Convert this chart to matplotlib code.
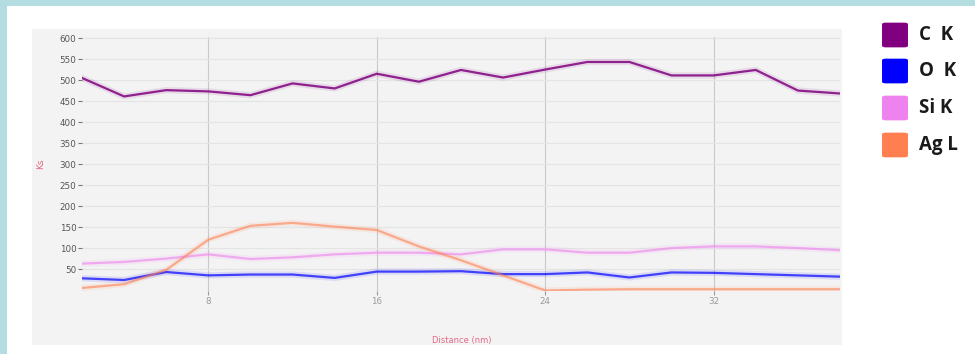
import matplotlib
matplotlib.use("Agg")
import matplotlib.pyplot as plt
from matplotlib.patches import Rectangle, FancyBboxPatch

# Line-scan data: element counts along the scan distance
distance = [2, 4, 6, 8, 10, 12, 14, 16, 18, 20, 22, 24, 26, 28, 30, 32, 34, 36, 38]
c_k = [506, 462, 477, 474, 465, 493, 481, 516, 497, 525, 507, 526, 544, 544, 512, 512, 525, 476, 469]
o_k = [29, 25, 44, 36, 38, 38, 30, 45, 45, 46, 39, 39, 43, 31, 43, 42, 39, 36, 33]
si_k = [64, 68, 76, 86, 75, 79, 86, 90, 90, 86, 98, 98, 90, 90, 101, 105, 105, 101, 96]
ag_l = [6, 15, 49, 121, 154, 161, 152, 144, 105, 72, 36, 0, 2, 3, 3, 3, 3, 3, 3]

series_names = ["C  K", "O  K", "Si K", "Ag L"]
series_colors = ["#800080", "#0000ff", "#ee82ee", "#ff7f50"]
line_alpha = [0.85, 0.7, 0.6, 0.6]
x_ticks = [8, 16, 24, 32]
y_ticks = [50, 100, 150, 200, 250, 300, 350, 400, 450, 500, 550, 600]

W, H = 975, 354
fig = plt.figure(figsize=(W / 100, H / 100), dpi=100, facecolor="white")


def fx(px):
    return px / W


def fy(py):
    return 1 - py / H


# page frame: teal bands on the top and left edges
fig.patches.append(Rectangle((0, fy(6)), 1, 6 / H, transform=fig.transFigure,
                             facecolor="#b3dde1", edgecolor="none", zorder=-5))
fig.patches.append(Rectangle((0, 0), fx(7), 1, transform=fig.transFigure,
                             facecolor="#b3dde1", edgecolor="none", zorder=-5))
# grey chart panel
fig.patches.append(Rectangle((fx(32), fy(345)), fx(810), 316 / H, transform=fig.transFigure,
                             facecolor="#f3f3f3", edgecolor="none", zorder=-5))

ax = fig.add_axes([fx(82), fy(290.5), fx(840 - 82), (290.5 - 37.2) / H])
ax.set_zorder(1)
ax.set_facecolor("#f3f3f3")

for vals, col, a in zip([c_k, o_k, si_k, ag_l], series_colors, line_alpha):
    ax.plot(distance, vals, color=col, lw=4.5, alpha=0.1, solid_capstyle="round", zorder=2)
    ax.plot(distance, vals, color=col, lw=1.6, alpha=a, solid_joinstyle="round", zorder=3)

ax.set_xlim(2, 38)
ax.set_ylim(0, 603)
ax.set_xticks(x_ticks)
ax.set_yticks(y_ticks)
ax.set_xticklabels([str(t) for t in x_ticks])
ax.set_yticklabels([str(t) for t in y_ticks])

ax.yaxis.grid(True, color="#e4e4e4", lw=0.9, zorder=1)
ax.xaxis.grid(True, color="#c9c9c9", lw=0.8, zorder=1)
ax.set_axisbelow(True)

for s in ax.spines.values():
    s.set_visible(False)

ax.tick_params(axis="y", direction="out", length=3, width=0.8, color="#777777",
               labelsize=6.3, labelcolor="#555555", pad=1)
ax.tick_params(axis="x", direction="out", length=3, width=0.8, color="#999999",
               labelsize=6.3, labelcolor="#9a9a9a", pad=2)

# axis titles
fig.text(fx(462), fy(340), "Distance (nm)", color="#e36a86", fontsize=6,
         ha="center", va="center", zorder=3)
fig.text(fx(41), fy(164), "Ks", color="#e36a86", fontsize=6.5,
         ha="center", va="center", rotation=90, zorder=3)

# legend with rounded colour swatches
row_y = [35, 71, 108, 145]
for name, col, ry in zip(series_names, series_colors, row_y):
    fig.patches.append(FancyBboxPatch((fx(883), fy(ry + 12)), fx(24), 24 / H,
                                      boxstyle="round,pad=0.001,rounding_size=0.004",
                                      transform=fig.transFigure,
                                      facecolor=col, edgecolor="none", zorder=2))
    fig.text(fx(919), fy(ry), name, color="#1a1a1a", fontsize=13.5,
             fontweight="bold", family="Open Sans", ha="left", va="center", zorder=3)

fig.savefig("out.png", dpi=100, facecolor="white")
